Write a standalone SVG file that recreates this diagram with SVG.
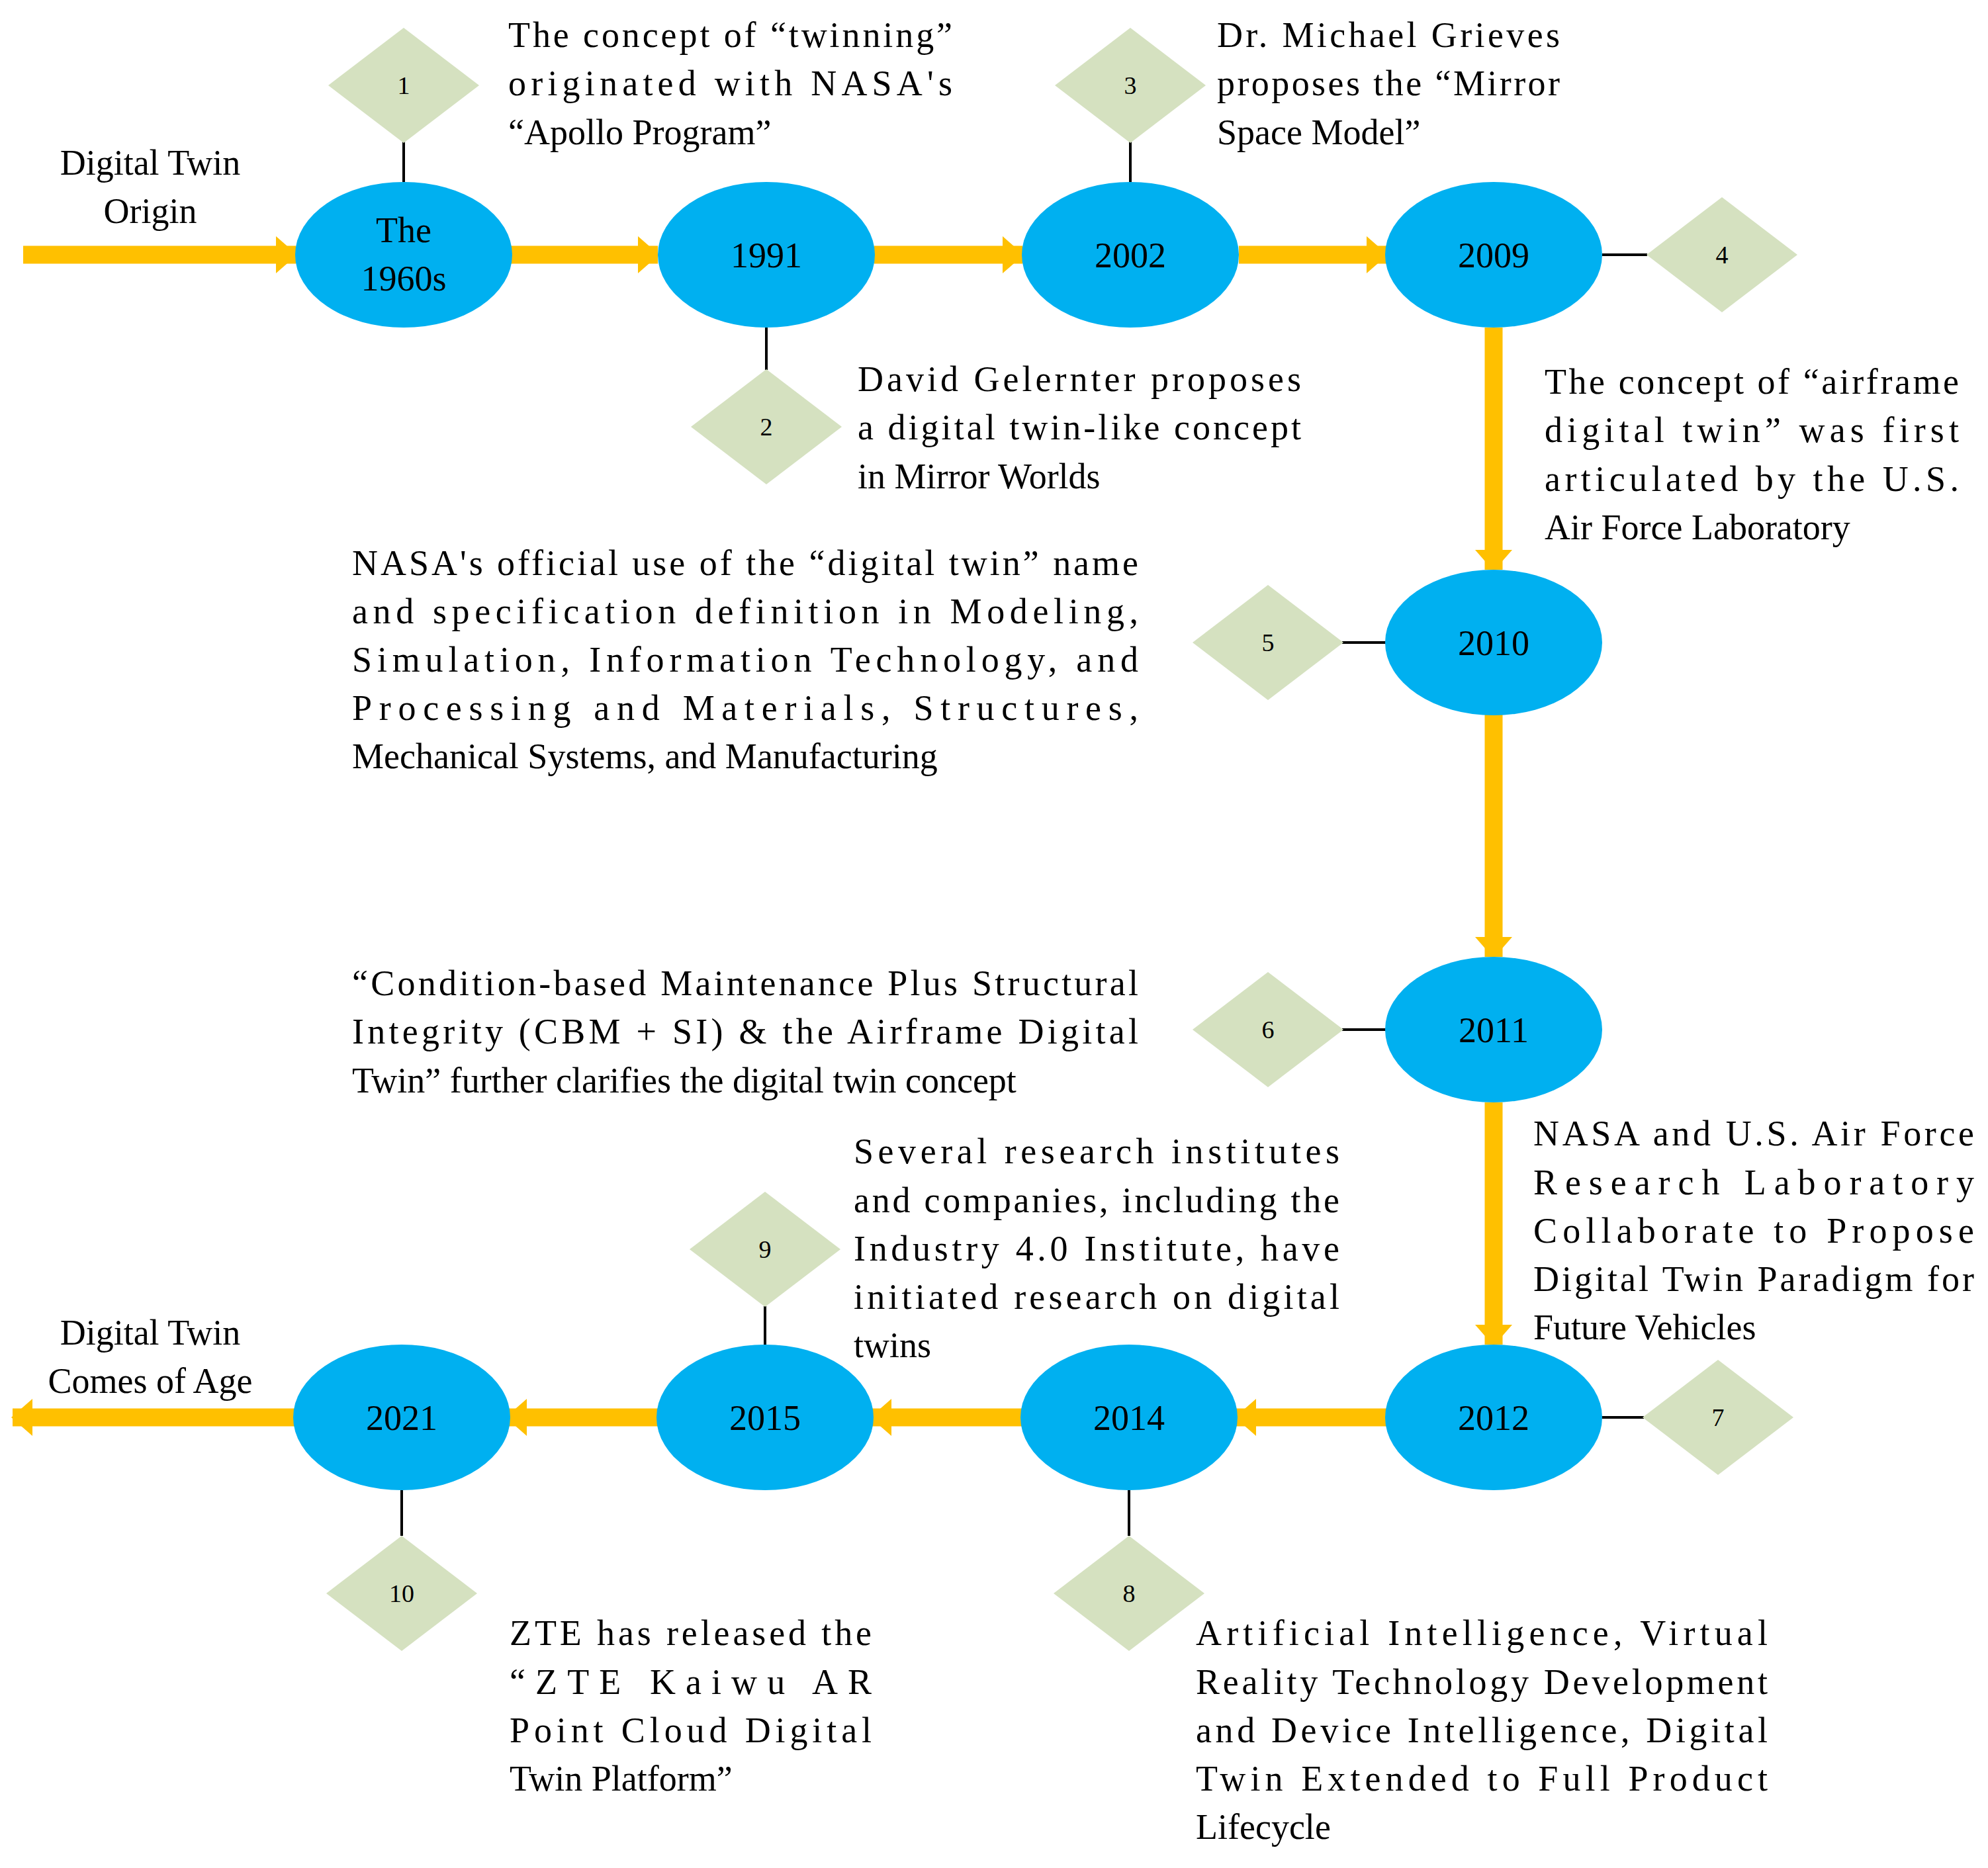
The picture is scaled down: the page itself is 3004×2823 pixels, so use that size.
<svg xmlns="http://www.w3.org/2000/svg" width="3004" height="2823" viewBox="0 0 3004 2823">
<style>
text{font-family:"Liberation Serif","Times New Roman",serif;font-size:54px;fill:#000}
.n{font-size:38px;text-anchor:middle}
.c{text-anchor:middle}
.e{fill:#00B0F0}
.d{fill:#D5E1C0}
.l{stroke:#000;stroke-width:4}
.a{stroke:#FFC000;stroke-width:27;fill:none;marker-end:url(#ah)}
</style>
<defs>
<marker id="ah" markerUnits="userSpaceOnUse" markerWidth="32" markerHeight="56" refX="30" refY="28" orient="auto">
<polygon points="0,0 32,28 0,56" fill="#FFC000"/>
</marker>
</defs>
<rect width="3004" height="2823" fill="#fff"/>
<g id="connectors">
<line class="a" x1="35" y1="385" x2="447" y2="385"/>
<line class="a" x1="770" y1="385" x2="994" y2="385"/>
<line class="a" x1="1321" y1="385" x2="1545" y2="385"/>
<line class="a" x1="1872" y1="385" x2="2095" y2="385"/>
<line class="a" x1="2257" y1="495" x2="2257" y2="861"/>
<line class="a" x1="2257" y1="1080" x2="2257" y2="1446"/>
<line class="a" x1="2257" y1="1666" x2="2257" y2="2032"/>
<line class="a" x1="2095" y1="2142" x2="1868" y2="2142"/>
<line class="a" x1="1545" y1="2142" x2="1317" y2="2142"/>
<line class="a" x1="994" y1="2142" x2="766" y2="2142"/>
<line class="a" x1="447" y1="2142" x2="19" y2="2142"/>
<line class="l" x1="610" y1="212" x2="610" y2="275"/>
<line class="l" x1="1158" y1="495" x2="1158" y2="559"/>
<line class="l" x1="1708" y1="212" x2="1708" y2="275"/>
<line class="l" x1="2421" y1="385" x2="2489" y2="385"/>
<line class="l" x1="2028" y1="971" x2="2095" y2="971"/>
<line class="l" x1="2028" y1="1556" x2="2095" y2="1556"/>
<line class="l" x1="2417" y1="2142" x2="2484" y2="2142"/>
<line class="l" x1="1706" y1="2252" x2="1706" y2="2321"/>
<line class="l" x1="1156" y1="1974" x2="1156" y2="2032"/>
<line class="l" x1="607" y1="2252" x2="607" y2="2321"/>
</g>
<g id="n1960"><ellipse class="e" cx="610" cy="385" rx="164" ry="110"/><text class="c" x="610" y="366">The</text><text class="c" x="610" y="439">1960s</text></g>
<g id="n1991"><ellipse class="e" cx="1158" cy="385" rx="164" ry="110"/><text class="c" x="1158" y="404">1991</text></g>
<g id="n2002"><ellipse class="e" cx="1708" cy="385" rx="164" ry="110"/><text class="c" x="1708" y="404">2002</text></g>
<g id="n2009"><ellipse class="e" cx="2257" cy="385" rx="164" ry="110"/><text class="c" x="2257" y="404">2009</text></g>
<g id="n2010"><ellipse class="e" cx="2257" cy="971" rx="164" ry="110"/><text class="c" x="2257" y="990">2010</text></g>
<g id="n2011"><ellipse class="e" cx="2257" cy="1556" rx="164" ry="110"/><text class="c" x="2257" y="1575">2011</text></g>
<g id="n2012"><ellipse class="e" cx="2257" cy="2142" rx="164" ry="110"/><text class="c" x="2257" y="2161">2012</text></g>
<g id="n2014"><ellipse class="e" cx="1706" cy="2142" rx="164" ry="110"/><text class="c" x="1706" y="2161">2014</text></g>
<g id="n2015"><ellipse class="e" cx="1156" cy="2142" rx="164" ry="110"/><text class="c" x="1156" y="2161">2015</text></g>
<g id="n2021"><ellipse class="e" cx="607" cy="2142" rx="164" ry="110"/><text class="c" x="607" y="2161">2021</text></g>
<g id="d1"><polygon class="d" points="496,129 610,42 724,129 610,216"/><text class="n" x="610" y="142">1</text></g>
<g id="d2"><polygon class="d" points="1044,645 1158,558 1272,645 1158,732"/><text class="n" x="1158" y="658">2</text></g>
<g id="d3"><polygon class="d" points="1594,129 1708,42 1822,129 1708,216"/><text class="n" x="1708" y="142">3</text></g>
<g id="d4"><polygon class="d" points="2488,385 2602,298 2716,385 2602,472"/><text class="n" x="2602" y="398">4</text></g>
<g id="d5"><polygon class="d" points="1802,971 1916,884 2030,971 1916,1058"/><text class="n" x="1916" y="984">5</text></g>
<g id="d6"><polygon class="d" points="1802,1556 1916,1469 2030,1556 1916,1643"/><text class="n" x="1916" y="1569">6</text></g>
<g id="d7"><polygon class="d" points="2482,2142 2596,2055 2710,2142 2596,2229"/><text class="n" x="2596" y="2155">7</text></g>
<g id="d8"><polygon class="d" points="1592,2408 1706,2321 1820,2408 1706,2495"/><text class="n" x="1706" y="2421">8</text></g>
<g id="d9"><polygon class="d" points="1042,1888 1156,1801 1270,1888 1156,1975"/><text class="n" x="1156" y="1901">9</text></g>
<g id="d10"><polygon class="d" points="493,2408 607,2321 721,2408 607,2495"/><text class="n" x="607" y="2421">10</text></g>
<g id="labels">
<text class="c" x="227" y="264">Digital Twin</text><text class="c" x="227" y="337">Origin</text>
<text class="c" x="227" y="2032">Digital Twin</text><text class="c" x="227" y="2105">Comes of Age</text>
<text x="768" y="71" textLength="671" lengthAdjust="spacing">The concept of “twinning”</text>
<text x="768" y="144" textLength="671" lengthAdjust="spacing">originated with NASA's</text>
<text x="768" y="218">“Apollo Program”</text>
<text x="1296" y="591" textLength="670" lengthAdjust="spacing">David Gelernter proposes</text>
<text x="1296" y="664" textLength="670" lengthAdjust="spacing">a digital twin-like concept</text>
<text x="1296" y="738">in Mirror Worlds</text>
<text x="1839" y="71" textLength="518" lengthAdjust="spacing">Dr. Michael Grieves</text>
<text x="1839" y="144" textLength="518" lengthAdjust="spacing">proposes the “Mirror</text>
<text x="1839" y="218">Space Model”</text>
<text x="2334" y="595" textLength="626" lengthAdjust="spacing">The concept of “airframe</text>
<text x="2334" y="668" textLength="626" lengthAdjust="spacing">digital twin” was first</text>
<text x="2334" y="742" textLength="626" lengthAdjust="spacing">articulated by the U.S.</text>
<text x="2334" y="815">Air Force Laboratory</text>
<text x="532" y="869" textLength="1188" lengthAdjust="spacing">NASA's official use of the “digital twin” name</text>
<text x="532" y="942" textLength="1188" lengthAdjust="spacing">and specification definition in Modeling,</text>
<text x="532" y="1015" textLength="1188" lengthAdjust="spacing">Simulation, Information Technology, and</text>
<text x="532" y="1088" textLength="1188" lengthAdjust="spacing">Processing and Materials, Structures,</text>
<text x="532" y="1161">Mechanical Systems, and Manufacturing</text>
<text x="532" y="1504" textLength="1188" lengthAdjust="spacing">“Condition-based Maintenance Plus Structural</text>
<text x="532" y="1577" textLength="1188" lengthAdjust="spacing">Integrity (CBM + SI) &amp; the Airframe Digital</text>
<text x="532" y="1651">Twin” further clarifies the digital twin concept</text>
<text x="2317" y="1731" textLength="666" lengthAdjust="spacing">NASA and U.S. Air Force</text>
<text x="2317" y="1805" textLength="666" lengthAdjust="spacing">Research Laboratory</text>
<text x="2317" y="1878" textLength="666" lengthAdjust="spacing">Collaborate to Propose</text>
<text x="2317" y="1951" textLength="666" lengthAdjust="spacing">Digital Twin Paradigm for</text>
<text x="2317" y="2024">Future Vehicles</text>
<text x="1290" y="1758" textLength="734" lengthAdjust="spacing">Several research institutes</text>
<text x="1290" y="1832" textLength="734" lengthAdjust="spacing">and companies, including the</text>
<text x="1290" y="1905" textLength="734" lengthAdjust="spacing">Industry 4.0 Institute, have</text>
<text x="1290" y="1978" textLength="734" lengthAdjust="spacing">initiated research on digital</text>
<text x="1290" y="2051">twins</text>
<text x="770" y="2486" textLength="547" lengthAdjust="spacing">ZTE has released the</text>
<text x="770" y="2560" textLength="547" lengthAdjust="spacing">“ZTE Kaiwu AR</text>
<text x="770" y="2633" textLength="547" lengthAdjust="spacing">Point Cloud Digital</text>
<text x="770" y="2706">Twin Platform”</text>
<text x="1807" y="2486" textLength="864" lengthAdjust="spacing">Artificial Intelligence, Virtual</text>
<text x="1807" y="2560" textLength="864" lengthAdjust="spacing">Reality Technology Development</text>
<text x="1807" y="2633" textLength="864" lengthAdjust="spacing">and Device Intelligence, Digital</text>
<text x="1807" y="2706" textLength="864" lengthAdjust="spacing">Twin Extended to Full Product</text>
<text x="1807" y="2779">Lifecycle</text>
</g>
</svg>
